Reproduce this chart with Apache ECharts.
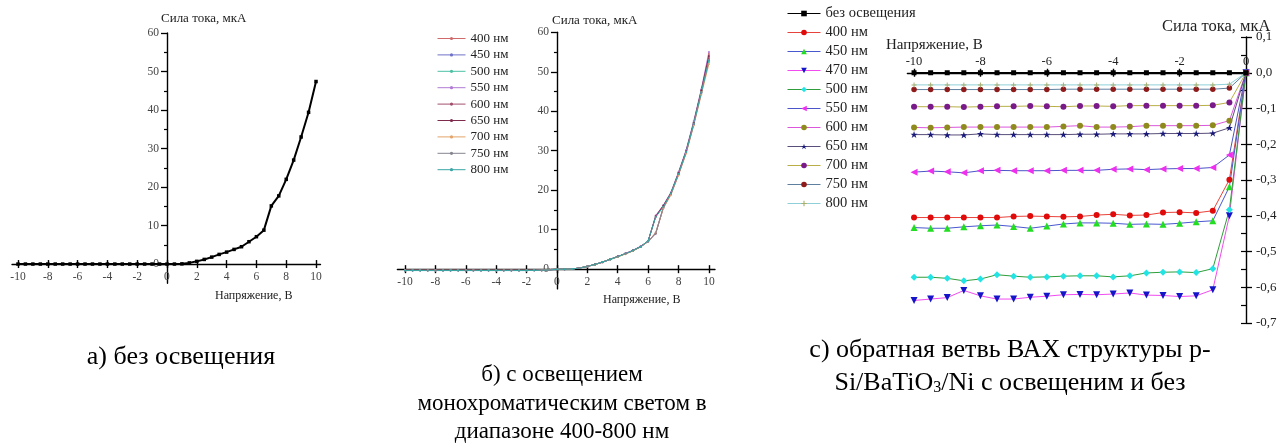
<!DOCTYPE html>
<html>
<head>
<meta charset="utf-8">
<script src="https://cdn.jsdelivr.net/npm/echarts@6/dist/echarts.min.js"></script>
<style>
html, body { margin: 0; padding: 0; background: #fff; }
#chart { width: 1285px; height: 448px; }
</style>
</head>
<body>
<div id="chart"></div>
<script>
// ---------- data ----------
// Voltage points for the full I-V sweeps (panels а, б), volts
const voltFull = [-10, -9.5, -9, -8.5, -8, -7.5, -7, -6.5, -6, -5.5, -5, -4.5, -4, -3.5, -3, -2.5, -2, -1.5, -1, -0.5,
  0, 0.5, 1, 1.5, 2, 2.5, 3, 3.5, 4, 4.5, 5, 5.5, 6, 6.5, 7, 7.5, 8, 8.5, 9, 9.5, 10];

// Panel а: dark current, µA
const currentDark = [0, 0, 0, 0, 0, 0, 0, 0, 0, 0, 0, 0, 0, 0, 0, 0, 0, 0, 0, 0,
  0, 0, 0.05, 0.3, 0.7, 1.2, 1.8, 2.5, 3.1, 3.8, 4.5, 5.8, 7.1, 8.8, 15.1, 17.7, 22.0, 27.0, 33.0, 39.4, 47.4];

// Panel б: current under monochromatic light, µA
const wavelengthsB = ['400 нм', '450 нм', '500 нм', '550 нм', '600 нм', '650 нм', '700 нм', '750 нм', '800 нм'];
const currentB400 = [-0.3, -0.3, -0.3, -0.3, -0.3, -0.3, -0.3, -0.3, -0.3, -0.3, -0.3, -0.3, -0.3, -0.3, -0.3, -0.3, -0.3, -0.3, -0.25, -0.15,
  0, 0, 0.05, 0.3, 0.7, 1.2, 1.8, 2.5, 3.2, 3.9, 4.7, 5.7, 7.1, 13.5, 16.0, 19.2, 24.2, 29.8, 37.0, 45.2, 54.5];
const currentB450 = [-0.35, -0.35, -0.35, -0.35, -0.35, -0.35, -0.35, -0.35, -0.35, -0.35, -0.35, -0.35, -0.35, -0.35, -0.35, -0.35, -0.35, -0.3, -0.3, -0.2,
  0, 0, 0.05, 0.3, 0.7, 1.2, 1.8, 2.5, 3.2, 3.9, 4.7, 5.6, 7.0, 9.2, 15.6, 19.0, 24.0, 29.5, 36.6, 44.6, 53.0];
const currentB500 = [-0.3, -0.3, -0.3, -0.3, -0.3, -0.3, -0.3, -0.3, -0.3, -0.3, -0.3, -0.3, -0.3, -0.3, -0.3, -0.3, -0.3, -0.3, -0.25, -0.15,
  0, 0, 0.05, 0.3, 0.7, 1.2, 1.8, 2.4, 3.1, 3.9, 4.6, 5.7, 7.2, 13.3, 15.9, 19.3, 24.3, 30.0, 37.2, 45.0, 52.5];
const currentB550 = [-0.3, -0.3, -0.3, -0.3, -0.3, -0.3, -0.3, -0.3, -0.3, -0.3, -0.3, -0.3, -0.3, -0.3, -0.3, -0.3, -0.3, -0.3, -0.25, -0.15,
  0, 0, 0.06, 0.3, 0.7, 1.2, 1.8, 2.5, 3.2, 4.0, 4.8, 5.8, 7.1, 13.6, 16.2, 19.5, 24.6, 30.2, 37.5, 45.6, 55.0];
const currentB600 = [-0.3, -0.3, -0.3, -0.3, -0.3, -0.3, -0.3, -0.3, -0.3, -0.3, -0.3, -0.3, -0.3, -0.3, -0.3, -0.3, -0.3, -0.3, -0.25, -0.15,
  0, 0, 0.05, 0.3, 0.7, 1.2, 1.7, 2.5, 3.2, 3.9, 4.7, 5.7, 7.0, 9.0, 15.5, 19.0, 24.0, 29.6, 36.8, 44.8, 53.5];
const currentB650 = [-0.3, -0.3, -0.3, -0.3, -0.3, -0.3, -0.3, -0.3, -0.3, -0.3, -0.3, -0.3, -0.3, -0.3, -0.3, -0.3, -0.3, -0.3, -0.25, -0.15,
  0, 0, 0.05, 0.3, 0.7, 1.2, 1.8, 2.5, 3.2, 3.9, 4.7, 5.7, 7.1, 13.4, 16.1, 19.3, 24.4, 29.9, 37.1, 45.3, 54.0];
const currentB700 = [-0.3, -0.3, -0.3, -0.3, -0.3, -0.3, -0.3, -0.3, -0.3, -0.3, -0.3, -0.3, -0.3, -0.3, -0.3, -0.3, -0.3, -0.3, -0.25, -0.15,
  0, 0, 0.05, 0.3, 0.7, 1.1, 1.8, 2.5, 3.1, 3.8, 4.6, 5.6, 7.0, 9.3, 15.4, 18.8, 23.8, 29.3, 36.4, 44.2, 52.0];
const currentB750 = [-0.3, -0.3, -0.3, -0.3, -0.3, -0.3, -0.3, -0.3, -0.3, -0.3, -0.3, -0.3, -0.3, -0.3, -0.3, -0.3, -0.3, -0.3, -0.25, -0.15,
  0, 0, 0.05, 0.3, 0.7, 1.2, 1.8, 2.5, 3.2, 3.9, 4.7, 5.6, 7.1, 9.1, 15.7, 19.1, 24.1, 29.6, 36.9, 44.9, 53.0];
const currentB800 = [-0.35, -0.35, -0.35, -0.35, -0.35, -0.35, -0.35, -0.35, -0.35, -0.35, -0.35, -0.35, -0.35, -0.35, -0.35, -0.35, -0.35, -0.3, -0.3, -0.2,
  0, 0, 0.05, 0.3, 0.7, 1.2, 1.8, 2.5, 3.2, 3.9, 4.7, 5.7, 7.2, 13.2, 15.8, 19.2, 24.2, 29.7, 36.8, 44.7, 52.8];

// Panel с: reverse branch, volts and µA
const voltReverse = [-10, -9.5, -9, -8.5, -8, -7.5, -7, -6.5, -6, -5.5, -5, -4.5, -4, -3.5, -3, -2.5, -2, -1.5, -1, -0.5, 0];
const namesC = ['без освещения', '400 нм', '450 нм', '470 нм', '500 нм', '550 нм', '600 нм', '650 нм', '700 нм', '750 нм', '800 нм'];
const currentCDark = [0, 0, 0, 0, 0, 0, 0, 0, 0, 0, 0, 0, 0, 0, 0, 0, 0, 0, 0, 0, 0];
const currentC400 = [-0.405, -0.405, -0.405, -0.405, -0.405, -0.405, -0.402, -0.401, -0.402, -0.403, -0.402, -0.398, -0.396, -0.399, -0.398, -0.391, -0.390, -0.392, -0.386, -0.299, 0];
const currentC450 = [-0.433, -0.435, -0.435, -0.431, -0.428, -0.426, -0.430, -0.435, -0.429, -0.423, -0.420, -0.420, -0.421, -0.424, -0.423, -0.424, -0.421, -0.417, -0.414, -0.319, 0];
const currentC470 = [-0.637, -0.633, -0.629, -0.609, -0.624, -0.633, -0.633, -0.628, -0.625, -0.621, -0.620, -0.621, -0.619, -0.616, -0.622, -0.623, -0.626, -0.624, -0.607, -0.400, 0];
const currentC500 = [-0.572, -0.572, -0.575, -0.582, -0.577, -0.565, -0.569, -0.572, -0.571, -0.569, -0.568, -0.568, -0.571, -0.568, -0.560, -0.558, -0.557, -0.559, -0.548, -0.383, 0];
const currentC550 = [-0.278, -0.275, -0.277, -0.280, -0.274, -0.273, -0.274, -0.274, -0.274, -0.273, -0.273, -0.273, -0.270, -0.269, -0.271, -0.269, -0.268, -0.268, -0.265, -0.230, 0];
const currentC600 = [-0.153, -0.154, -0.153, -0.152, -0.152, -0.152, -0.152, -0.152, -0.152, -0.150, -0.148, -0.152, -0.152, -0.151, -0.148, -0.148, -0.148, -0.148, -0.147, -0.134, 0];
const currentC650 = [-0.173, -0.173, -0.174, -0.174, -0.171, -0.173, -0.173, -0.173, -0.173, -0.173, -0.172, -0.172, -0.171, -0.171, -0.171, -0.170, -0.170, -0.170, -0.169, -0.154, 0];
const currentC700 = [-0.095, -0.095, -0.095, -0.096, -0.095, -0.094, -0.094, -0.093, -0.094, -0.095, -0.093, -0.093, -0.094, -0.092, -0.092, -0.092, -0.092, -0.092, -0.091, -0.083, 0];
const currentC750 = [-0.047, -0.047, -0.047, -0.047, -0.047, -0.047, -0.047, -0.047, -0.047, -0.046, -0.046, -0.046, -0.046, -0.046, -0.046, -0.046, -0.046, -0.046, -0.046, -0.043, 0];
const currentC800 = [-0.034, -0.034, -0.034, -0.034, -0.034, -0.034, -0.034, -0.034, -0.034, -0.034, -0.034, -0.034, -0.034, -0.034, -0.034, -0.034, -0.034, -0.034, -0.034, -0.032, 0];

// Tick values
const ticksXFull = [-10, -8, -6, -4, -2, 0, 2, 4, 6, 8, 10];
const ticksYFull = [0, 10, 20, 30, 40, 50, 60];
const minorYFull = [5, 15, 25, 35, 45, 55];
const ticksXReverse = [-10, -8, -6, -4, -2, 0];
const ticksYReverse = [0.1, 0, -0.1, -0.2, -0.3, -0.4, -0.5, -0.6, -0.7];
const minorYReverse = [0.1, 0.05, 0, -0.05, -0.1, -0.15, -0.2, -0.25, -0.3, -0.35, -0.4, -0.45, -0.5, -0.55, -0.6, -0.65, -0.7];

// ---------- styles ----------
const SERIF = '"Liberation Serif"';
const colorsB = ['#d06a6a', '#6f72c8', '#4cc0a4', '#b27ad6', '#a24f6e', '#7e2a4c', '#e3a46a', '#85858f', '#3aa6a6'];
const lineColorsC = ['#000000', '#e8433a', '#4a58d0', '#f04cf0', '#2f9e3a', '#4b54c8', '#dc56dc', '#5a4e7a', '#b8b046', '#5f7f9f', '#8fd0d8'];
const markerColorsC = ['#000000', '#e00a0a', '#22dd22', '#1414c8', '#22e4e4', '#ee30ee', '#8f8a1c', '#1a1a7a', '#7a1a8a', '#8e1a1a', '#a8b070'];
const STAR = 'path://M12,0 L15,9 L24,9 L17,14 L20,23 L12,17 L4,23 L7,14 L0,9 L9,9 Z';
const PLUS = 'path://M4,0 H6 V4 H10 V6 H6 V10 H4 V6 H0 V4 H4 Z';
const symbolsC = ['rect', 'circle', 'triangle', 'triangle', 'diamond', 'triangle', 'circle', STAR, 'circle', 'circle', PLUS];
const rotateC = [0, 0, 0, 180, 0, 90, 0, 0, 0, 0, 0];
const sizesC = [5, 6, 7, 7, 7, 7, 6, 7, 6, 5.5, 5];

const pairs = (xs, ys) => xs.map((x, i) => [x, ys[i]]);
const stripKey = name => name.split('|')[1];

const currentsB = [currentB400, currentB450, currentB500, currentB550, currentB600, currentB650, currentB700, currentB750, currentB800];
const currentsC = [currentCDark, currentC400, currentC450, currentC470, currentC500, currentC550, currentC600, currentC650, currentC700, currentC750, currentC800];

// ---------- layout of the three plot areas ----------
const grids = [
  { left: 12, top: 33, width: 308.5, height: 250.3, x: [-10.4, 10.3], y: [-5, 60] },
  { left: 397.4, top: 32.3, width: 317.6, height: 256.6, x: [-10.5, 10.4], y: [-5, 60] },
  { left: 907.4, top: 37, width: 338.6, height: 286, x: [-10.2, 0], y: [-0.7, 0.1] }
];
// The axes cross at zero: shift each axis from the grid edge to the zero line.
const xAxisShift = g => -(g.height * (0 - g.y[0]) / (g.y[1] - g.y[0]));       // bottom axis
const xAxisShiftTop = g => -(g.height * (g.y[1] - 0) / (g.y[1] - g.y[0]));    // top axis
const yAxisShift = g => -(g.width * (0 - g.x[0]) / (g.x[1] - g.x[0]));        // left axis

// ---------- axes ----------
function mainX(gi, ticks, position, offset, labelOpt) {
  const g = grids[gi];
  return {
    type: 'value', gridIndex: gi, min: g.x[0], max: g.x[1], position: position, offset: offset,
    axisLine: { show: true, onZero: false, lineStyle: { color: '#000', width: 1.4 } },
    axisTick: { show: true, customValues: ticks, length: 4, lineStyle: { color: '#000', width: 1.4 } },
    axisLabel: Object.assign({ customValues: ticks, fontFamily: SERIF, fontSize: 11.5, color: '#444', margin: 7 }, labelOpt || {}),
    splitLine: { show: false }
  };
}
function tickOnlyX(gi, ticks, position, offset) {
  const g = grids[gi];
  return {
    type: 'value', gridIndex: gi, min: g.x[0], max: g.x[1], position: position, offset: offset,
    axisLine: { show: false, onZero: false },
    axisTick: { show: true, inside: true, customValues: ticks, length: 4, lineStyle: { color: '#000', width: 1.4 } },
    axisLabel: { show: false }, splitLine: { show: false }
  };
}
function mainY(gi, ticks, position, offset, fmt, labelOpt) {
  const g = grids[gi];
  return {
    type: 'value', gridIndex: gi, min: g.y[0], max: g.y[1], position: position, offset: offset,
    axisLine: { show: true, onZero: false, lineStyle: { color: '#000', width: 1.4 } },
    axisTick: { show: true, customValues: ticks, length: 6, lineStyle: { color: '#000', width: 1.3 } },
    axisLabel: Object.assign({ customValues: ticks, fontFamily: SERIF, fontSize: 11.5, color: '#444', margin: 8, formatter: fmt }, labelOpt || {}),
    splitLine: { show: false }
  };
}
function tickOnlyY(gi, ticks, position, offset, inside, len) {
  const g = grids[gi];
  return {
    type: 'value', gridIndex: gi, min: g.y[0], max: g.y[1], position: position, offset: offset,
    axisLine: { show: false, onZero: false },
    axisTick: { show: true, inside: inside, customValues: ticks, length: len, lineStyle: { color: '#000', width: 1.2 } },
    axisLabel: { show: false }, splitLine: { show: false }
  };
}

const series = [];
// Panel а
series.push({
  name: 'a|без освещения', type: 'line', xAxisIndex: 0, yAxisIndex: 0,
  data: pairs(voltFull, currentDark), symbol: 'rect', symbolSize: 3.5, clip: false, z: 4,
  lineStyle: { color: '#000', width: 2 }, itemStyle: { color: '#000' }
});
// Panel б
wavelengthsB.forEach((w, i) => {
  series.push({
    name: 'b|' + w, type: 'line', xAxisIndex: 2, yAxisIndex: 2,
    data: pairs(voltFull, currentsB[i]), symbol: 'circle', symbolSize: 2, clip: false, z: 4,
    lineStyle: { color: colorsB[i], width: 1 }, itemStyle: { color: colorsB[i] }
  });
});
// Panel с
namesC.forEach((n, i) => {
  series.push({
    name: 'c|' + n, type: 'line', xAxisIndex: 4, yAxisIndex: 4,
    data: pairs(voltReverse, currentsC[i]), symbol: symbolsC[i], symbolSize: sizesC[i],
    symbolRotate: rotateC[i], clip: false, z: i === 0 ? 5 : 3,
    lineStyle: { color: lineColorsC[i], width: i === 0 ? 1.6 : 1 }, itemStyle: { color: markerColorsC[i] }
  });
});

const fmtComma = v => v.toFixed(1).replace('.', ',');
const textEl = (x, y, text, size, align, fill) => ({
  type: 'text', x: x, y: y,
  style: { text: text, fontFamily: SERIF, fontSize: size, fill: fill || '#222', textAlign: align || 'left', textVerticalAlign: 'middle' }
});

const option = {
  animation: false,
  backgroundColor: '#fff',
  textStyle: { fontFamily: SERIF },
  grid: grids.map(g => ({ left: g.left, top: g.top, width: g.width, height: g.height })),
  xAxis: [
    mainX(0, ticksXFull, 'bottom', xAxisShift(grids[0])),
    tickOnlyX(0, ticksXFull, 'bottom', xAxisShift(grids[0])),
    mainX(1, ticksXFull, 'bottom', xAxisShift(grids[1])),
    tickOnlyX(1, ticksXFull, 'bottom', xAxisShift(grids[1])),
    mainX(2, ticksXReverse, 'top', xAxisShiftTop(grids[2]), { fontSize: 12.5, color: '#222', margin: 5 }),
    tickOnlyX(2, ticksXReverse, 'top', xAxisShiftTop(grids[2]))
  ],
  yAxis: [
    mainY(0, ticksYFull, 'left', yAxisShift(grids[0])),
    tickOnlyY(0, minorYFull, 'left', yAxisShift(grids[0]), false, 3),
    mainY(1, ticksYFull, 'left', yAxisShift(grids[1])),
    tickOnlyY(1, minorYFull, 'left', yAxisShift(grids[1]), false, 3),
    mainY(2, ticksYReverse, 'right', 0, fmtComma, { fontSize: 13, color: '#222', margin: 10 }),
    tickOnlyY(2, minorYReverse, 'right', 0, true, 5)
  ],
  legend: [
    {
      data: wavelengthsB.map(w => 'b|' + w), formatter: stripKey, padding: 0,
      orient: 'vertical', left: 437, top: 32, itemWidth: 28, itemHeight: 4, itemGap: 3.4,
      lineStyle: { width: 1 },
      textStyle: { fontFamily: SERIF, fontSize: 13, color: '#222' }, selectedMode: false
    },
    {
      data: namesC.map(n => 'c|' + n), formatter: stripKey, padding: 0,
      orient: 'vertical', left: 787, top: 6, itemWidth: 33, itemHeight: 7, itemGap: 4,
      lineStyle: { width: 1 },
      textStyle: { fontFamily: SERIF, fontSize: 14.5, color: '#222' }, selectedMode: false
    }
  ],
  graphic: [
    textEl(161, 19, 'Сила тока, мкА', 13),
    textEl(215, 296, 'Напряжение, В', 12),
    textEl(552, 21, 'Сила тока, мкА', 13),
    textEl(603, 300, 'Напряжение, В', 12),
    textEl(886, 45, 'Напряжение, В', 15),
    textEl(1162, 27, 'Сила тока, мкА', 16.5),
    textEl(181, 357, 'а) без освещения', 26, 'center', '#000'),
    textEl(562, 375, 'б) с освещением', 23, 'center', '#000'),
    textEl(562, 404, 'монохроматическим светом в', 23, 'center', '#000'),
    textEl(562, 432, 'диапазоне 400-800 нм', 23, 'center', '#000'),
    textEl(1010, 350, 'с) обратная ветвь ВАХ структуры р-', 26, 'center', '#000'),
    {
      type: 'text', x: 1010, y: 382,
      style: {
        text: '{m|Si/BaTiO}{s|3}{m|/Ni с освещеним и без}', textAlign: 'center', textVerticalAlign: 'middle',
        rich: {
          m: { fontFamily: SERIF, fontSize: 26, fill: '#000', verticalAlign: 'bottom', lineHeight: 28 },
          s: { fontFamily: SERIF, fontSize: 16, fill: '#000', verticalAlign: 'bottom', lineHeight: 23 }
        }
      }
    }
  ],
  series: series
};

const chart = echarts.init(document.getElementById('chart'), null, { renderer: 'canvas' });
chart.setOption(option);
</script>
</body>
</html>
